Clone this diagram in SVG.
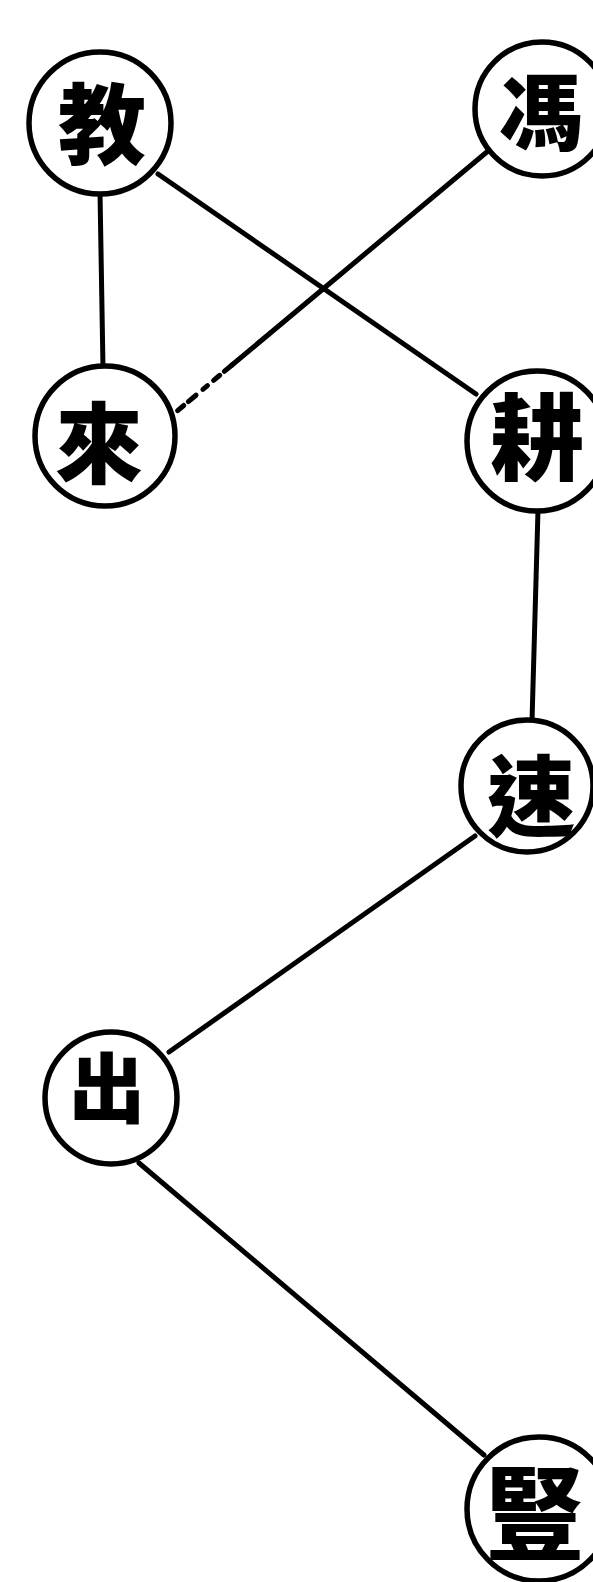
<svg xmlns="http://www.w3.org/2000/svg" width="593" height="1582" viewBox="0 0 593 1582">
<style>
.node circle{fill:#fff;stroke:#000;stroke-width:5.5}
.node text{font-family:"Noto Sans CJK TC","Noto Sans CJK SC",sans-serif;font-weight:900;fill:#000;text-anchor:middle;dominant-baseline:central}
.edge{stroke:#000;stroke-width:5;fill:none;stroke-linecap:round}
</style>
<rect width="593" height="1582" fill="#fff"/>
<g id="connectors">
<line class="edge" x1="100" y1="192" x2="103" y2="368"/>
<line class="edge" x1="158" y1="174" x2="476" y2="394"/>
<line class="edge" x1="494" y1="146" x2="323" y2="289"/>
<line class="edge" x1="323" y1="289" x2="232" y2="365" stroke-width="3.5"/>
<line class="edge" x1="232" y1="365" x2="176" y2="412" stroke-width="3" stroke-dasharray="10 6 8 8 6 9"/>
<line class="edge" x1="538" y1="510" x2="532" y2="721"/>
<line class="edge" x1="475" y1="836" x2="169" y2="1052"/>
<line class="edge" x1="139" y1="1163" x2="484" y2="1455"/>
</g>
<g id="n1" class="node"><circle cx="100" cy="123" r="71"/><text x="102" y="118" font-size="88">教</text></g>
<g id="n2" class="node"><circle cx="542" cy="109" r="67"/><text x="541" y="107" font-size="84">馮</text></g>
<g id="n3" class="node"><circle cx="105" cy="436" r="70"/><text x="99" y="437" font-size="88">來</text></g>
<g id="n4" class="node"><circle cx="537" cy="441" r="70"/><text x="537" y="432" font-size="94">耕</text></g>
<g id="n5" class="node"><circle cx="527" cy="786" r="66"/><text x="531" y="790" font-size="88">速</text></g>
<g id="n6" class="node"><circle cx="111" cy="1098" r="66"/><text x="107" y="1084" font-size="76">出</text></g>
<g id="n7" class="node"><circle cx="539" cy="1509" r="72"/><text x="535" y="1507" font-size="100">豎</text></g>
</svg>
